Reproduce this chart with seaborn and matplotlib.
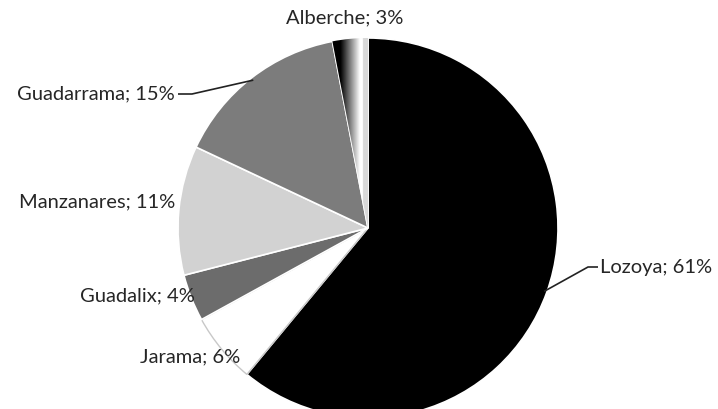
import numpy as np
import matplotlib
matplotlib.use("Agg")
import matplotlib.pyplot as plt
import seaborn as sns

# ---- data ----
rivers = ["Lozoya", "Jarama", "Guadalix", "Manzanares", "Guadarrama", "Alberche"]
shares = [61, 6, 4, 11, 15, 3]
colors = ["#000000", "#ffffff", "#6c6c6c", "#d2d2d2", "#7c7c7c", "#000000"]

sns.set_theme(style="white")
plt.rcParams["font.family"] = ["Lato", "DejaVu Sans"]

W, H = 718, 409
CX, CY, R = 368, 228, 190  # pixel geometry of pie

fig = plt.figure(figsize=(W / 100, H / 100), dpi=100)
ax = fig.add_axes([0, 0, 1, 1])
ax.set_xlim(-CX / R, (W - CX) / R)
ax.set_ylim(-(H - CY) / R, CY / R)
ax.set_aspect("equal")
ax.axis("off")


def px(x, y):
    return ((x - CX) / R, (CY - y) / R)


wedges, _ = ax.pie(shares, colors=colors, startangle=90, counterclock=False,
                   radius=1, center=(0, 0),
                   wedgeprops=dict(edgecolor="white", linewidth=1.2))
# Jarama outline (white slice)
wedges[1].set_edgecolor("#c8c8c8")
wedges[1].set_linewidth(1.0)

# gradient fill for Alberche
alb = wedges[5]
ext = alb.get_path().get_extents()
grad = np.concatenate([np.zeros(60), np.linspace(0, 1, 140), np.ones(20), np.full(36, 0.85)])
img = ax.imshow(grad[np.newaxis, :], cmap="gray", vmin=0, vmax=1, aspect="auto",
                extent=[ext.x0, ext.x1, ext.y0, ext.y1], zorder=3)
img.set_clip_path(alb)
ax.set_xlim(-CX / R, (W - CX) / R)
ax.set_ylim(-(H - CY) / R, CY / R)
ax.set_aspect("equal")

# label layout (pixel positions)
label_pos = {
    "Lozoya": (600, 267, "left"),
    "Jarama": (240, 357, "right"),
    "Guadalix": (195, 296, "right"),
    "Manzanares": (175, 202, "right"),
    "Guadarrama": (175, 94, "right"),
    "Alberche": (345, 18, "center"),
}
leaders = {
    "Lozoya": [(588, 267), (598, 267)],
    "Guadarrama": [(192, 94), (178, 94)],
}

fs = 14.5
cum = 0
for name, val in zip(rivers, shares):
    mid = 90 - (cum + val / 2) * 3.6
    cum += val
    x, y, ha = label_pos[name]
    ax.text(*px(x, y), f"{name}; {val}%", ha=ha, va="center", fontsize=fs,
            color="#262626", zorder=5)
    if name in leaders:
        a = np.deg2rad(mid)
        pts = [(np.cos(a) * 0.985, np.sin(a) * 0.985)] + [px(*p) for p in leaders[name]]
        xs, ys = zip(*pts)
        ax.plot(xs, ys, color="#222222", lw=1.2, zorder=4, solid_capstyle="butt")

fig.savefig("out.png", dpi=100)
